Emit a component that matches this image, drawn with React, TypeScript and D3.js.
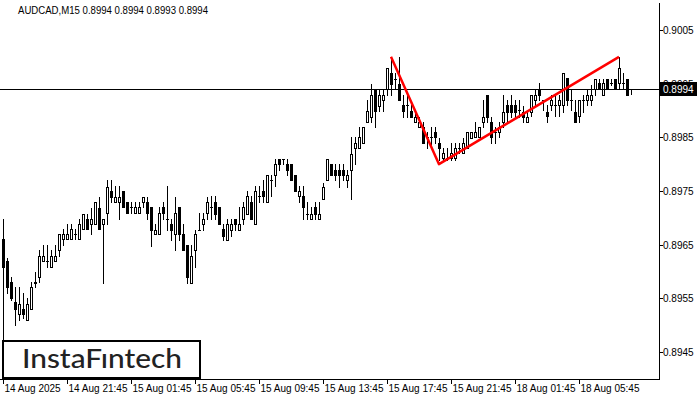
import React from 'react';
import * as d3 from 'd3';

const symbol = 'AUDCAD,M15';
const quote = ['0.8994', '0.8994', '0.8993', '0.8994'];

const opens = [
  0.89661, 0.89620, 0.89580, 0.89543, 0.89521, 0.89530, 0.89510, 0.89530, 0.89579, 0.89590,
  0.89620, 0.89620, 0.89608, 0.89620, 0.89640, 0.89661, 0.89661, 0.89661, 0.89669, 0.89661,
  0.89679, 0.89697, 0.89688, 0.89688, 0.89718, 0.89688, 0.89709, 0.89750, 0.89730, 0.89730,
  0.89750, 0.89730, 0.89720, 0.89709, 0.89709, 0.89730, 0.89730, 0.89720, 0.89669, 0.89669,
  0.89720, 0.89697, 0.89688, 0.89669, 0.89720, 0.89669, 0.89649, 0.89579, 0.89640, 0.89677,
  0.89688, 0.89709, 0.89720, 0.89730, 0.89720, 0.89679, 0.89659, 0.89677, 0.89697, 0.89677,
  0.89697, 0.89707, 0.89730, 0.89688, 0.89741, 0.89750, 0.89730, 0.89770, 0.89780, 0.89810,
  0.89810, 0.89800, 0.89800, 0.89780, 0.89741, 0.89741, 0.89707, 0.89697, 0.89720, 0.89697,
  0.89735, 0.89770, 0.89800, 0.89789, 0.89789, 0.89789, 0.89770, 0.89789, 0.89830, 0.89830,
  0.89839, 0.89879, 0.89888, 0.89940, 0.89908, 0.89920, 0.89940, 0.89970, 0.89959, 0.89949,
  0.89910, 0.89910, 0.89899, 0.89879, 0.89869, 0.89869, 0.89851, 0.89851, 0.89860, 0.89839,
  0.89811, 0.89811, 0.89811, 0.89811, 0.89830, 0.89821, 0.89830, 0.89849, 0.89851, 0.89851,
  0.89879, 0.89929, 0.89879, 0.89860, 0.89860, 0.89879, 0.89910, 0.89910, 0.89910, 0.89901,
  0.89897, 0.89879, 0.89897, 0.89920, 0.89938, 0.89920, 0.89897, 0.89910, 0.89910, 0.89910,
  0.89910, 0.89961, 0.89920, 0.89897, 0.89890, 0.89920, 0.89920, 0.89920, 0.89940, 0.89951,
  0.89929, 0.89959, 0.89951, 0.89959, 0.89951, 0.89951, 0.89959, 0.89940,
];

const highs = [
  0.89697, 0.89625, 0.89590, 0.89571, 0.89571, 0.89560, 0.89551, 0.89580, 0.89599, 0.89640,
  0.89649, 0.89649, 0.89640, 0.89649, 0.89669, 0.89679, 0.89688, 0.89688, 0.89679, 0.89697,
  0.89707, 0.89707, 0.89718, 0.89730, 0.89739, 0.89697, 0.89770, 0.89770, 0.89759, 0.89759,
  0.89750, 0.89730, 0.89730, 0.89730, 0.89730, 0.89739, 0.89739, 0.89720, 0.89688, 0.89720,
  0.89730, 0.89759, 0.89697, 0.89739, 0.89720, 0.89688, 0.89649, 0.89649, 0.89677, 0.89709,
  0.89709, 0.89739, 0.89741, 0.89741, 0.89720, 0.89688, 0.89697, 0.89697, 0.89697, 0.89720,
  0.89730, 0.89750, 0.89741, 0.89759, 0.89759, 0.89770, 0.89780, 0.89780, 0.89810, 0.89810,
  0.89810, 0.89810, 0.89800, 0.89780, 0.89759, 0.89759, 0.89730, 0.89720, 0.89730, 0.89730,
  0.89765, 0.89810, 0.89800, 0.89800, 0.89800, 0.89800, 0.89789, 0.89851, 0.89851, 0.89869,
  0.89869, 0.89920, 0.89949, 0.89940, 0.89940, 0.89940, 0.89979, 0.90000, 0.89970, 0.90000,
  0.89929, 0.89929, 0.89910, 0.89899, 0.89888, 0.89879, 0.89860, 0.89869, 0.89869, 0.89849,
  0.89830, 0.89830, 0.89839, 0.89839, 0.89839, 0.89849, 0.89860, 0.89860, 0.89879, 0.89869,
  0.89920, 0.89929, 0.89888, 0.89869, 0.89879, 0.89929, 0.89920, 0.89929, 0.89920, 0.89920,
  0.89908, 0.89899, 0.89929, 0.89938, 0.89951, 0.89920, 0.89910, 0.89929, 0.89929, 0.89929,
  0.89970, 0.89961, 0.89938, 0.89920, 0.89920, 0.89929, 0.89938, 0.89948, 0.89959, 0.89959,
  0.89959, 0.89959, 0.89959, 0.89959, 0.90000, 0.89970, 0.89959, 0.89940,
];

const lows = [
  0.89472, 0.89560, 0.89547, 0.89500, 0.89510, 0.89513, 0.89510, 0.89530, 0.89571, 0.89580,
  0.89620, 0.89608, 0.89608, 0.89620, 0.89629, 0.89649, 0.89661, 0.89661, 0.89661, 0.89661,
  0.89679, 0.89679, 0.89669, 0.89688, 0.89679, 0.89579, 0.89688, 0.89730, 0.89730, 0.89697,
  0.89720, 0.89709, 0.89709, 0.89709, 0.89709, 0.89720, 0.89697, 0.89648, 0.89669, 0.89669,
  0.89697, 0.89677, 0.89659, 0.89640, 0.89659, 0.89640, 0.89579, 0.89579, 0.89608, 0.89677,
  0.89677, 0.89697, 0.89697, 0.89697, 0.89688, 0.89659, 0.89659, 0.89667, 0.89677, 0.89677,
  0.89688, 0.89707, 0.89697, 0.89688, 0.89730, 0.89730, 0.89730, 0.89741, 0.89759, 0.89789,
  0.89800, 0.89780, 0.89770, 0.89750, 0.89730, 0.89697, 0.89697, 0.89697, 0.89697, 0.89697,
  0.89735, 0.89770, 0.89780, 0.89770, 0.89757, 0.89770, 0.89757, 0.89735, 0.89800, 0.89830,
  0.89839, 0.89879, 0.89879, 0.89869, 0.89899, 0.89899, 0.89929, 0.89929, 0.89940, 0.89920,
  0.89888, 0.89888, 0.89888, 0.89879, 0.89869, 0.89839, 0.89830, 0.89830, 0.89839, 0.89808,
  0.89808, 0.89808, 0.89808, 0.89808, 0.89821, 0.89821, 0.89830, 0.89849, 0.89851, 0.89851,
  0.89869, 0.89879, 0.89839, 0.89839, 0.89851, 0.89869, 0.89879, 0.89888, 0.89888, 0.89888,
  0.89879, 0.89879, 0.89890, 0.89910, 0.89920, 0.89901, 0.89879, 0.89901, 0.89890, 0.89890,
  0.89897, 0.89910, 0.89901, 0.89879, 0.89879, 0.89897, 0.89910, 0.89910, 0.89929, 0.89940,
  0.89929, 0.89940, 0.89948, 0.89940, 0.89940, 0.89940, 0.89929, 0.89931,
];

const closes = [
  0.89608, 0.89571, 0.89551, 0.89530, 0.89539, 0.89521, 0.89539, 0.89571, 0.89580, 0.89629,
  0.89629, 0.89620, 0.89629, 0.89629, 0.89669, 0.89669, 0.89669, 0.89679, 0.89669, 0.89688,
  0.89707, 0.89679, 0.89697, 0.89730, 0.89679, 0.89697, 0.89757, 0.89739, 0.89739, 0.89739,
  0.89720, 0.89709, 0.89720, 0.89720, 0.89720, 0.89739, 0.89709, 0.89677, 0.89677, 0.89709,
  0.89709, 0.89697, 0.89677, 0.89709, 0.89669, 0.89640, 0.89590, 0.89629, 0.89669, 0.89677,
  0.89697, 0.89730, 0.89720, 0.89707, 0.89688, 0.89667, 0.89688, 0.89688, 0.89688, 0.89688,
  0.89720, 0.89741, 0.89697, 0.89750, 0.89741, 0.89741, 0.89780, 0.89770, 0.89800, 0.89800,
  0.89810, 0.89789, 0.89770, 0.89750, 0.89750, 0.89720, 0.89707, 0.89707, 0.89707, 0.89707,
  0.89757, 0.89810, 0.89780, 0.89780, 0.89780, 0.89780, 0.89780, 0.89819, 0.89839, 0.89851,
  0.89869, 0.89899, 0.89929, 0.89899, 0.89929, 0.89929, 0.89979, 0.89949, 0.89959, 0.89920,
  0.89899, 0.89910, 0.89888, 0.89888, 0.89879, 0.89839, 0.89851, 0.89851, 0.89851, 0.89830,
  0.89821, 0.89811, 0.89821, 0.89830, 0.89830, 0.89839, 0.89860, 0.89860, 0.89860, 0.89869,
  0.89888, 0.89888, 0.89851, 0.89860, 0.89869, 0.89897, 0.89897, 0.89897, 0.89897, 0.89901,
  0.89888, 0.89888, 0.89929, 0.89929, 0.89929, 0.89920, 0.89890, 0.89920, 0.89910, 0.89920,
  0.89970, 0.89920, 0.89920, 0.89879, 0.89920, 0.89920, 0.89929, 0.89929, 0.89959, 0.89940,
  0.89951, 0.89940, 0.89951, 0.89940, 0.89979, 0.89951, 0.89929, 0.89940,
];

const priceTicks = [0.9005, 0.8995, 0.8985, 0.8975, 0.8965, 0.8955, 0.8945];
const timeLabels = [
  '14 Aug 2025', '14 Aug 21:45', '15 Aug 01:45', '15 Aug 05:45', '15 Aug 09:45',
  '15 Aug 13:45', '15 Aug 17:45', '15 Aug 21:45', '18 Aug 01:45', '18 Aug 05:45',
];
const timeLabelIdx = [0, 16, 32, 48, 64, 80, 96, 112, 128, 144];
const patternIdx = [97, 109, 154];
const patternPrice = [0.9, 0.898, 0.9];
const lastPrice = 0.8994;
const logoText = 'InstaFıntech';

export default function App() {
  const W = 700;
  const H = 400;
  const plotRight = 659;
  const plotBottom = 379;
  const n = closes.length;
  const x = d3.scaleLinear().domain([0, n - 1]).range([3, 3 + 4 * (n - 1)]);
  const y = d3.scaleLinear().domain([0.8945, 0.9005]).range([352, 30]);
  const font = '"Liberation Sans", Arial, sans-serif';

  const candles = d3.range(n).map((i) => {
    const cx = Math.round(x(i));
    const o = opens[i];
    const c = closes[i];
    const yh = Math.round(y(highs[i]));
    const yl = Math.round(y(lows[i]));
    const yTop = Math.round(y(Math.max(o, c)));
    const yBot = Math.round(y(Math.min(o, c)));
    const els: React.ReactNode[] = [];
    els.push(
      <line key="w" x1={cx + 0.5} x2={cx + 0.5} y1={yh} y2={yl + 1} stroke="#000" strokeWidth={1} />
    );
    if (yBot - yTop < 1) {
      els.push(<line key="d" x1={cx - 1} x2={cx + 2} y1={yTop + 0.5} y2={yTop + 0.5} stroke="#000" strokeWidth={1} />);
    } else if (c > o) {
      els.push(
        <rect key="b" x={cx - 0.5} y={yTop + 0.5} width={2} height={yBot - yTop} fill="#fff" stroke="#000" strokeWidth={1} />
      );
    } else {
      els.push(<rect key="b" x={cx - 1} y={yTop} width={3} height={yBot - yTop + 1} fill="#000" />);
    }
    return <g key={i}>{els}</g>;
  });

  const zig = d3
    .line<number>()
    .x((d) => x(patternIdx[d]))
    .y((d) => y(patternPrice[d]))(d3.range(patternIdx.length));

  const yLast = Math.round(y(lastPrice)) + 0.5;

  return (
    <svg width={W} height={H} style={{ position: 'absolute', left: 0, top: 0, background: '#fff' }}>
      <rect x={0} y={0} width={W} height={H} fill="#fff" />
      {candles}
      <line x1={0} x2={plotRight} y1={yLast} y2={yLast} stroke="#000" strokeWidth={1} />
      <path d={zig || ''} fill="none" stroke="#ff0000" strokeWidth={2.5} strokeLinejoin="round" />
      {/* frame */}
      <line x1={plotRight + 0.5} x2={plotRight + 0.5} y1={3} y2={plotBottom + 1} stroke="#000" />
      <line x1={0} x2={plotRight + 1} y1={plotBottom + 0.5} y2={plotBottom + 0.5} stroke="#000" />
      {/* price axis */}
      {priceTicks.map((p) => {
        const py = Math.round(y(p)) + 0.5;
        return (
          <g key={p}>
            <line x1={plotRight + 1} x2={plotRight + 4} y1={py} y2={py} stroke="#000" />
            <text x={663} y={py + 3.5} fontSize={10} fontFamily={font} fill="#000">
              {p.toFixed(4)}
            </text>
          </g>
        );
      })}
      <rect x={660} y={yLast - 7.5} width={37} height={14} fill="#000" />
      <text x={663} y={yLast + 3.5} fontSize={10} fontFamily={font} fill="#fff">
        {lastPrice.toFixed(4)}
      </text>
      {/* time axis */}
      {timeLabelIdx.map((idx, k) => {
        const tx = Math.round(x(idx)) + 0.5;
        return (
          <g key={idx}>
            <line x1={tx} x2={tx} y1={plotBottom + 1} y2={plotBottom + 5} stroke="#000" />
            <text x={tx + 1} y={392} fontSize={10} fontFamily={font} fill="#000">
              {timeLabels[k]}
            </text>
          </g>
        );
      })}
      {/* title */}
      <text x={18} y={14} fontSize={10} fontFamily={font} fill="#000" textLength={190} lengthAdjust="spacingAndGlyphs">
        {symbol + '  ' + quote.join(' ')}
      </text>
      {/* logo */}
      <rect x={3} y={341} width={197} height={37} fill="#fff" stroke="#000" strokeWidth={2} />
      <text x={22} y={368} fontSize={27} fontFamily="Lato, 'Open Sans', sans-serif" fontWeight={500} fill="#222" textLength={160} lengthAdjust="spacingAndGlyphs">
        {logoText}
      </text>
    </svg>
  );
}
